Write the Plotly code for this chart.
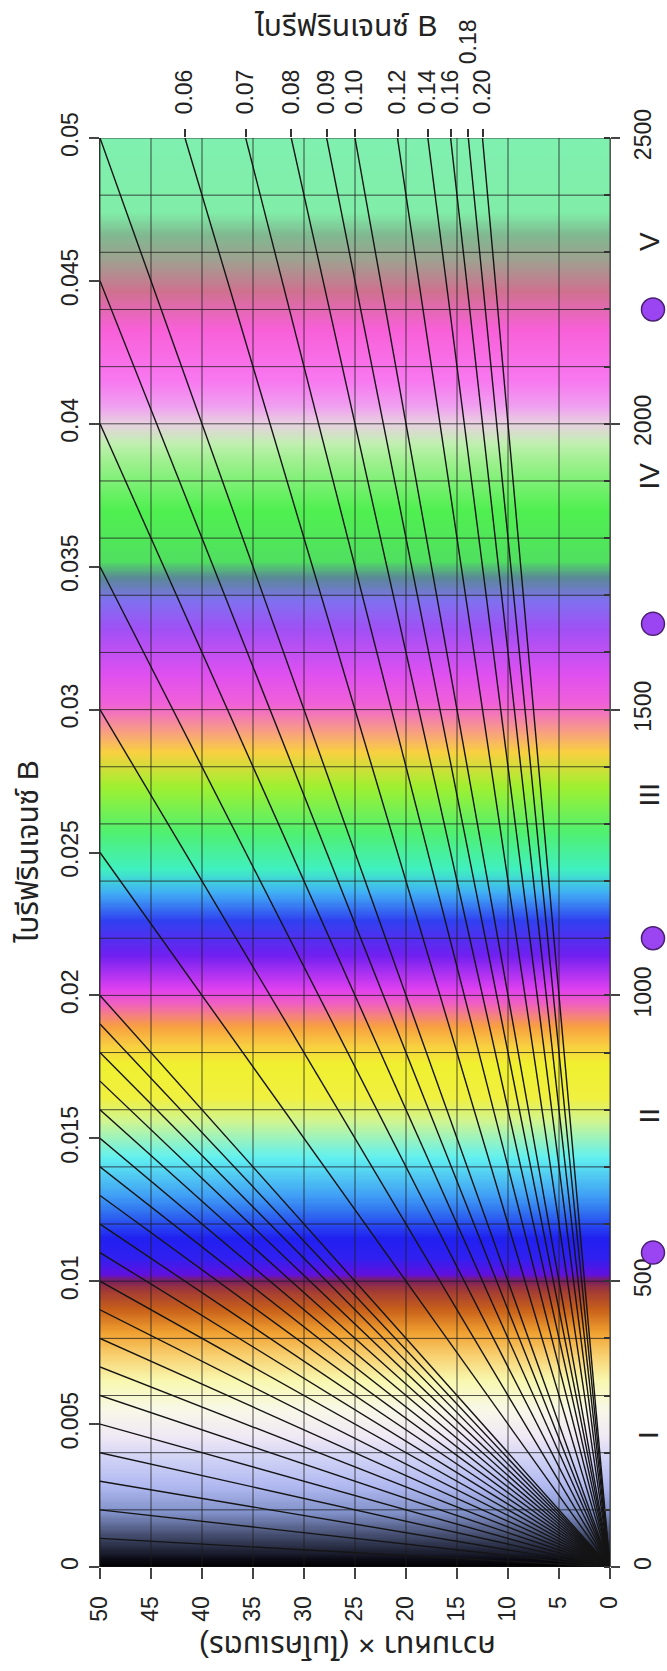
import numpy as np
import plotly.graph_objects as go

# ---------------- data ----------------
MAX_THICK = 50          # micrometres
MAX_RET = 2500          # nanometres

THICK_TICKS = [0, 5, 10, 15, 20, 25, 30, 35, 40, 45, 50]
RET_GRID = list(range(0, 2501, 100))
RET_TICKS = [0, 500, 1000, 1500, 2000, 2500]
RET_TICK_LABELS = ["0", "500", "1000", "1500", "2000", "2500"]

BIREF_LEFT = [0, 0.005, 0.01, 0.015, 0.02, 0.025, 0.03, 0.035, 0.04, 0.045, 0.05]
BIREF_LEFT_LABELS = ["0", "0.005", "0.01", "0.015", "0.02", "0.025", "0.03",
                     "0.035", "0.04", "0.045", "0.05"]

BIREF_TOP = [0.06, 0.07, 0.08, 0.09, 0.10, 0.12, 0.14, 0.16, 0.18, 0.20]
BIREF_TOP_LABELS = ["0.06", "0.07", "0.08", "0.09", "0.10", "0.12", "0.14",
                    "0.16", "0.18", "0.20"]

BIREF_LINES = [0.001, 0.002, 0.003, 0.004, 0.005, 0.006, 0.007, 0.008, 0.009, 0.010,
               0.011, 0.012, 0.013, 0.014, 0.015, 0.016, 0.017, 0.018, 0.019, 0.020,
               0.025, 0.030, 0.035, 0.040, 0.045, 0.050,
               0.06, 0.07, 0.08, 0.09, 0.10, 0.12, 0.14, 0.16, 0.18, 0.20]

# interference colours (retardation nm -> colour)
COLOR_RET = [0, 12, 52, 95, 140, 185, 228, 275, 325, 370, 410, 450, 485, 500, 512,
             540, 575, 620, 650, 715, 780, 820, 880, 910, 945, 985, 1010, 1070, 1130,
             1180, 1220, 1285, 1365, 1425, 1460, 1510, 1560, 1640, 1690, 1730, 1760,
             1850, 1935, 1965, 2000, 2030, 2075, 2165, 2230, 2285, 2330, 2370, 2500]
COLOR_HEX = ["#000000", "#0a0a14", "#404868", "#8090c8", "#b0b8f0", "#cdd0f5",
             "#f0e8f5", "#f8f8e8", "#f8f8b0", "#f8d070", "#f0a030", "#c8601a",
             "#a03838", "#7a2060", "#6010e0", "#3020f0", "#2020f0", "#3070f0",
             "#40a0f5", "#60f0f0", "#d0f590", "#f0f040", "#f0f030", "#f8d040",
             "#f8a040", "#f060c0", "#e040f0", "#7020f0", "#3040f0", "#40b0f5",
             "#40f0c0", "#50f070", "#a0f030", "#f8d040", "#f8a080", "#f060d8",
             "#e050f0", "#a050f5", "#8070f0", "#5a8898", "#50e060", "#50f050",
             "#a0f090", "#c0f0b0", "#e8d0e0", "#f0a0f0", "#f878f0", "#f860d8",
             "#d07090", "#a0a090", "#80b890", "#80eea8", "#80f0b0"]

ORDER_BOUNDS = [550, 1100, 1650, 2200]
ORDER_LABELS = ["I", "II", "III", "IV", "V"]
ORDER_LABEL_RET = [231, 790, 1350, 1908, 2318]

TITLE_B = "ไบรีฟรินเจนซ์ B"
TITLE_T = "ความหนา × (ไมโครเมตร)"

# ---------------- styling / positions ----------------
FONT = "Liberation Sans, Arial, Noto Sans Thai, Noto Sans, sans-serif"
TXT = "#222222"
PLOT_W, PLOT_H = 510, 1429
ORDER_XP = 1.0843                # paper x of order circles (right of plot)
NUMERAL_XP = 1.0766              # paper x of order numerals
CIRCLE_R = 11.5                  # px

fig = go.Figure()

# background interference colours
ys = np.linspace(0, MAX_RET, 1251)
z = np.column_stack([ys, ys])
cscale = [[r / MAX_RET, c] for r, c in zip(COLOR_RET, COLOR_HEX)]
fig.add_trace(go.Heatmap(x=[0, MAX_THICK], y=ys, z=z, colorscale=cscale,
                         zmin=0, zmax=MAX_RET, showscale=False, hoverinfo="skip"))

# grid
gx, gy = [], []
for t in THICK_TICKS:
    gx += [t, t, None]
    gy += [0, MAX_RET, None]
for r in RET_GRID:
    gx += [0, MAX_THICK, None]
    gy += [r, r, None]
fig.add_trace(go.Scatter(x=gx, y=gy, mode="lines",
                         line=dict(color="rgba(30,30,30,0.78)", width=1),
                         hoverinfo="skip", showlegend=False))

# birefringence lines
lx, ly = [], []
for b in BIREF_LINES:
    t_end = min(MAX_THICK, MAX_RET / (b * 1000))
    lx += [0, t_end, None]
    ly += [0, b * t_end * 1000, None]
fig.add_trace(go.Scatter(x=lx, y=ly, mode="lines",
                         line=dict(color="#151515", width=1.4),
                         hoverinfo="skip", showlegend=False))

# dummy trace for top / right axes
fig.add_trace(go.Scatter(x=[None], y=[None], xaxis="x2", yaxis="y2",
                         mode="markers", showlegend=False, hoverinfo="skip"))

# order boundary circles
shapes = []
dxp = CIRCLE_R / PLOT_W
dyp = CIRCLE_R / PLOT_H
for r in ORDER_BOUNDS:
    yc = r / MAX_RET
    shapes.append(dict(type="circle", xref="paper", yref="paper",
                       x0=ORDER_XP - dxp, x1=ORDER_XP + dxp,
                       y0=yc - dyp, y1=yc + dyp,
                       fillcolor="#9b45f2", line=dict(color="#4a2070", width=1.5)))

annotations = []
for lab, r in zip(ORDER_LABELS, ORDER_LABEL_RET):
    annotations.append(dict(x=NUMERAL_XP, y=r / MAX_RET, xref="paper", yref="paper",
                            text=lab, showarrow=False, textangle=-90,
                            xanchor="center", yanchor="middle",
                            font=dict(size=28, color=TXT, family=FONT)))

top_pos = [MAX_RET / (b * 1000) for b in BIREF_TOP]
top_text = [("" if l == "0.18" else l) for l in BIREF_TOP_LABELS]
i18 = BIREF_TOP_LABELS.index("0.18")
annotations.append(dict(x=top_pos[i18], y=1.0672, xref="x", yref="paper",
                        text="0.18", showarrow=False, textangle=-90,
                        xanchor="center", yanchor="middle",
                        font=dict(size=23, color=TXT, family=FONT)))

annotations.append(dict(x=0.482, y=1.079, xref="paper", yref="paper", text=TITLE_B,
                        showarrow=False, xanchor="center", yanchor="middle",
                        font=dict(size=30, color=TXT, family=FONT)))
annotations.append(dict(x=-0.143, y=0.5, xref="paper", yref="paper", text=TITLE_B,
                        showarrow=False, textangle=-90,
                        xanchor="center", yanchor="middle",
                        font=dict(size=30, color=TXT, family=FONT)))
annotations.append(dict(x=0.485, y=-0.056, xref="paper", yref="paper", text=TITLE_T,
                        showarrow=False, textangle=180,
                        xanchor="center", yanchor="middle",
                        font=dict(size=30, color=TXT, family=FONT)))

tickfont = dict(size=23, color=TXT, family=FONT)
fig.update_layout(
    width=667, height=1671,
    margin=dict(l=100, r=57, t=138, b=104),
    paper_bgcolor="white", plot_bgcolor="white",
    showlegend=False,
    font=dict(family=FONT, color=TXT),
    shapes=shapes,
    xaxis=dict(range=[MAX_THICK, 0], tickvals=THICK_TICKS,
               ticktext=[str(t) for t in THICK_TICKS], tickangle=-90,
               ticks="outside", ticklen=11, tickcolor="#444", tickwidth=1.5,
               showgrid=False, zeroline=False, showline=False,
               tickfont=tickfont, ticklabelstandoff=8),
    xaxis2=dict(range=[MAX_THICK, 0], overlaying="x", side="top", anchor="y",
                tickvals=top_pos, ticktext=top_text, tickangle=-90,
                ticks="outside", ticklen=8, tickcolor="#333", tickwidth=1.5,
                showgrid=False, zeroline=False, showline=False,
                tickfont=tickfont, ticklabelstandoff=10),
    yaxis=dict(range=[0, MAX_RET], tickvals=[b * MAX_THICK * 1000 for b in BIREF_LEFT],
               ticktext=BIREF_LEFT_LABELS, tickangle=-90,
               ticks="outside", ticklen=10, tickcolor="#444", tickwidth=1.5,
               showgrid=False, zeroline=False, showline=True,
               linecolor="#333", linewidth=1,
               tickfont=tickfont, ticklabelstandoff=2),
    yaxis2=dict(range=[0, MAX_RET], overlaying="y", side="right", anchor="x",
                tickvals=RET_TICKS, ticktext=RET_TICK_LABELS, tickangle=-90,
                ticks="outside", ticklen=9, tickcolor="#444", tickwidth=1.5,
                minor=dict(dtick=100, tick0=0, ticks="inside", ticklen=6,
                           tickcolor="#333"),
                showgrid=False, zeroline=False, showline=True,
                linecolor="#555", linewidth=1,
                tickfont=tickfont, ticklabelstandoff=3),
    annotations=annotations,
)

fig.write_html("out.html", config={"displayModeBar": False},
               post_script="document.body.style.margin='0';"
                           "document.body.style.overflow='hidden';")
